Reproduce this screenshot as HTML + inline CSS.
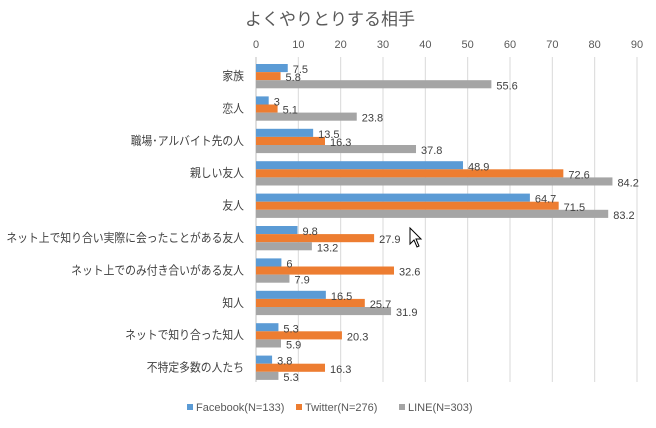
<!DOCTYPE html>
<html><head><meta charset="utf-8"><style>
body{margin:0;background:#fff;}
svg text{font-family:"Liberation Sans","Noto Sans CJK JP",sans-serif;}
</style></head><body>
<svg id="chart" width="656" height="423" xmlns="http://www.w3.org/2000/svg">
<rect width="656" height="423" fill="#fff"/>
<text x="245" y="25" font-size="17" fill="#595959">よくやりとりする相手</text>
<g id="grid"></g><g id="bars"></g><g id="labels"></g>
<g font-size="11" fill="#595959">
<rect x="187" y="404" width="6" height="6" fill="#5b9bd5"/>
<text x="196" y="411">Facebook(N=133)</text>
<rect x="296" y="404" width="6" height="6" fill="#ed7d31"/>
<text x="305" y="411">Twitter(N=276)</text>
<rect x="399" y="404" width="6" height="6" fill="#a5a5a5"/>
<text x="408" y="411">LINE(N=303)</text>
</g>
<path d="M410 228 L410 244 L414 240 L417 247 L419 246 L416 239 L421 239 Z" fill="#fff" stroke="#000" stroke-width="1"/>
</svg>
<script>
const categories=["家族","恋人","職場･アルバイト先の人","親しい友人","友人","ネット上で知り合い実際に会ったことがある友人","ネット上でのみ付き合いがある友人","知人","ネットで知り合った知人","不特定多数の人たち"];
const facebook=[7.5,3,13.5,48.9,64.7,9.8,6,16.5,5.3,3.8];
const twitter=[5.8,5.1,16.3,72.6,71.5,27.9,32.6,25.7,20.3,16.3];
const line=[55.6,23.8,37.8,84.2,83.2,13.2,7.9,31.9,5.9,5.3];
const ticks=[0,10,20,30,40,50,60,70,80,90];
const NS="http://www.w3.org/2000/svg";
const x0=256,x1=637,max=90;
const xs=v=>x0+v/max*(x1-x0);
const top0=64,step=32.4,bh=8.1;
const grid=document.getElementById('grid'),bars=document.getElementById('bars'),labels=document.getElementById('labels');
function mk(tag,attrs,parent){const e=document.createElementNS(NS,tag);for(const k in attrs)e.setAttribute(k,attrs[k]);parent.appendChild(e);return e;}
ticks.forEach(t=>{
  const l=mk('line',{x1:xs(t),x2:xs(t),y1:57,y2:382,stroke:t===0?'#bfbfbf':'#d9d9d9','stroke-width':1},grid);
  
  
  const tx=mk('text',{x:xs(t),y:48,'font-size':11,fill:'#595959','text-anchor':'middle'},grid);
  tx.textContent=t;
  
  
});
const series=[[facebook,'#5b9bd5','facebook'],[twitter,'#ed7d31','twitter'],[line,'#a5a5a5','line']];
categories.forEach((c,i)=>{
  const gy=top0+i*step;
  const ct=mk('text',{x:244,y:gy+16,'font-size':12,fill:'#404040','text-anchor':'end'},labels);
  ct.textContent=c;
  
  
  const w=ct.getComputedTextLength();
  ct.setAttribute('textLength',Math.min(w*0.9,239));
  ct.setAttribute('lengthAdjust','spacingAndGlyphs');
  series.forEach(([arr,col,nm],j)=>{
    const y=gy+j*bh;
    const r=mk('rect',{x:x0,y:y,width:xs(arr[i])-x0,height:bh,fill:col},bars);
    
    
    const t=mk('text',{x:xs(arr[i])+5,y:y+bh+1,'font-size':11,fill:'#404040'},labels);
    t.textContent=arr[i];
    
    
  });
});
</script>
</body></html>
